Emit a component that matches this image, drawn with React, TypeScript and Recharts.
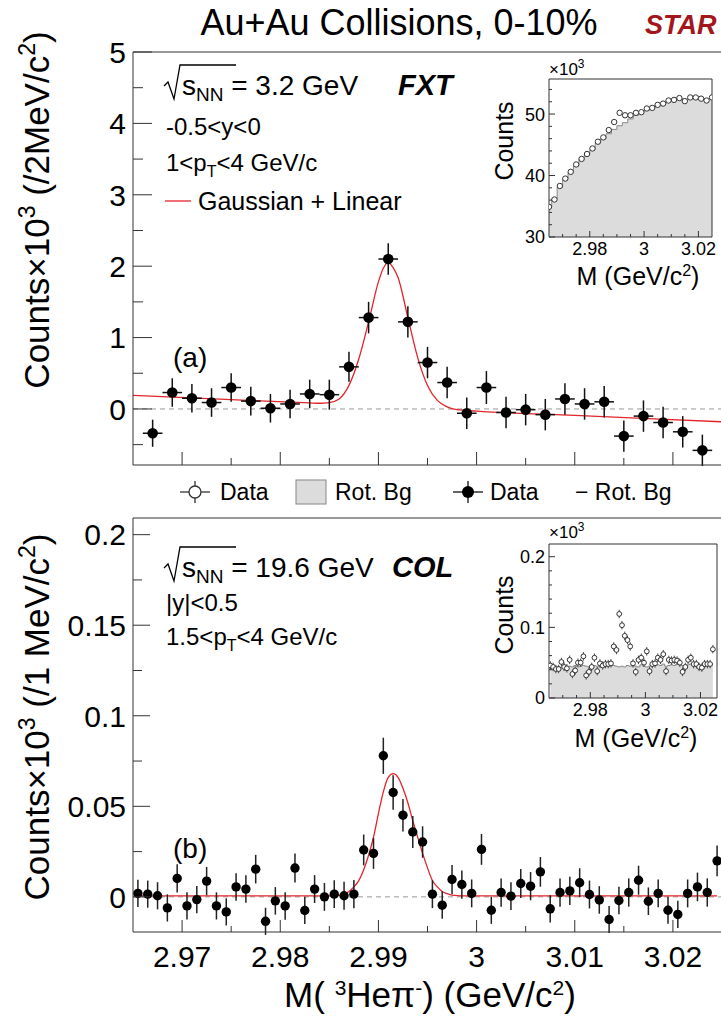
import React from "react";
import { ComposedChart, Scatter, Line, Area, XAxis, YAxis, ErrorBar, ReferenceLine } from "recharts";

const FONT = "'Liberation Sans', Arial, Helvetica, sans-serif";

// panel (a): 3.2 GeV FXT, Data - Rot. Bg, 2 MeV bins
const massA = [2.967, 2.969, 2.971, 2.973, 2.975, 2.977, 2.979, 2.981, 2.983, 2.985, 2.987, 2.989, 2.991, 2.993, 2.995,
  2.997, 2.999, 3.001, 3.003, 3.005, 3.007, 3.009, 3.011, 3.013, 3.015, 3.017, 3.019, 3.021, 3.023];
const countsA = [-0.34, 0.23, 0.15, 0.09, 0.3, 0.11, 0.01, 0.07, 0.21, 0.2, 0.59, 1.28, 2.1, 1.22, 0.65,
  0.37, -0.06, 0.3, -0.05, -0.01, -0.08, 0.14, 0.07, 0.1, -0.38, -0.1, -0.19, -0.32, -0.58];
const errA = [0.19, 0.2, 0.2, 0.2, 0.2, 0.2, 0.2, 0.2, 0.2, 0.21, 0.21, 0.22, 0.22, 0.22, 0.22,
  0.22, 0.22, 0.23, 0.22, 0.22, 0.22, 0.22, 0.22, 0.22, 0.22, 0.22, 0.22, 0.22, 0.22];
const fitMassA = [2.965, 2.975, 2.983, 2.984, 2.985, 2.986, 2.987, 2.988, 2.989, 2.99, 2.9905, 2.991, 2.9915,
  2.992, 2.993, 2.994, 2.995, 2.996, 2.997, 2.998, 3.0, 3.01, 3.025];
const fitA = [0.19, 0.13, 0.085, 0.08, 0.09, 0.14, 0.33, 0.7, 1.22, 1.78, 1.97, 2.05, 1.98,
  1.84, 1.28, 0.72, 0.33, 0.12, 0.03, -0.01, -0.03, -0.09, -0.18];

// inset (a): same-event data (x10^3) and rotated background
const massIA = [2.965, 2.967, 2.969, 2.971, 2.973, 2.975, 2.977, 2.979, 2.981, 2.983, 2.985, 2.987, 2.989, 2.991, 2.993,
  2.995, 2.997, 2.999, 3.001, 3.003, 3.005, 3.007, 3.009, 3.011, 3.013, 3.015, 3.017, 3.019, 3.021, 3.023, 3.025];
const dataIA = [34.9, 36.1, 38.3, 39.5, 40.6, 41.8, 42.7, 43.5, 44.4, 45.5, 46.2, 47.4, 48.7, 50.2, 49.8,
  49.8, 50.2, 50.3, 50.9, 51.0, 51.5, 51.7, 52.2, 52.3, 52.6, 52.1, 52.7, 52.7, 52.5, 52.2, 52.7];
const bgIA = [34.9, 36.2, 38.1, 39.4, 40.5, 41.6, 42.6, 43.5, 44.2, 45.3, 46.0, 46.8, 47.5, 48.1, 48.6,
  49.2, 49.8, 50.3, 50.6, 51.0, 51.5, 51.6, 52.1, 52.3, 52.6, 52.4, 52.6, 52.8, 52.6, 52.5, 52.6];

// panel (b): 19.6 GeV COL, Data - Rot. Bg, 1 MeV bins
const massB = [2.9655, 2.9665, 2.9675, 2.9685, 2.9695, 2.9705, 2.9715, 2.9725, 2.9735, 2.9745,
  2.9755, 2.9765, 2.9775, 2.9785, 2.9795, 2.9805, 2.9815, 2.9825, 2.9835, 2.9845,
  2.9855, 2.9865, 2.9875, 2.9885, 2.9895, 2.9905, 2.9915, 2.9925, 2.9935, 2.9945,
  2.9955, 2.9965, 2.9975, 2.9985, 2.9995, 3.0005, 3.0015, 3.0025, 3.0035, 3.0045,
  3.0055, 3.0065, 3.0075, 3.0085, 3.0095, 3.0105, 3.0115, 3.0125, 3.0135, 3.0145,
  3.0155, 3.0165, 3.0175, 3.0185, 3.0195, 3.0205, 3.0215, 3.0225, 3.0235, 3.0245];
const countsB = [0.0019, 0.0015, 0.0006, -0.0061, 0.0102, -0.005, -0.0015, 0.0087, -0.005, -0.0083,
  0.0055, 0.0043, 0.0153, -0.0135, -0.0022, -0.005, 0.0159, -0.0075, 0.0043, 0.0,
  0.0015, 0.0006, 0.0015, 0.0259, 0.024, 0.0779, 0.0576, 0.0451, 0.0358, 0.0303,
  0.0015, -0.0046, 0.0096, 0.0068, 0.0019, 0.0262, -0.0074, 0.0024, 0.0004, 0.0074,
  0.0059, 0.0138, -0.0066, 0.0024, 0.0033, 0.0078, 0.0013, -0.0017, -0.0125, -0.002,
  0.0024, 0.0092, -0.0024, 0.0019, -0.0074, -0.0097, 0.0019, 0.0055, 0.0024, 0.0199];
const errB = [0.0075, 0.0075, 0.0075, 0.0075, 0.0078, 0.0075, 0.0075, 0.0078, 0.0075, 0.0075,
  0.0076, 0.0076, 0.0079, 0.0075, 0.0076, 0.0076, 0.008, 0.0075, 0.0077, 0.0077,
  0.0077, 0.0077, 0.0078, 0.0085, 0.0085, 0.01, 0.0095, 0.009, 0.0088, 0.0087,
  0.0077, 0.0075, 0.008, 0.0078, 0.0077, 0.0085, 0.0075, 0.0078, 0.0077, 0.008,
  0.0078, 0.0082, 0.0075, 0.0078, 0.0078, 0.008, 0.0077, 0.0076, 0.0074, 0.0076,
  0.0078, 0.008, 0.0076, 0.0077, 0.0075, 0.0075, 0.0077, 0.0079, 0.0078, 0.0085];
const fitMassB = [2.9655, 2.9855, 2.9865, 2.987, 2.9875, 2.988, 2.9885, 2.989, 2.9895, 2.99, 2.9905, 2.991, 2.9915,
  2.992, 2.9925, 2.993, 2.9935, 2.994, 2.9945, 2.995, 2.9955, 2.996, 2.9965, 2.997, 2.9975, 2.9985, 3.0245];
const fitB = [0.0005, 0.0006, 0.0015, 0.003, 0.0055, 0.009, 0.015, 0.023, 0.033, 0.046, 0.058, 0.066, 0.068,
  0.066, 0.06, 0.052, 0.042, 0.033, 0.024, 0.016, 0.009, 0.0055, 0.003, 0.0018, 0.001, 0.0006, 0.0005];

// inset (b)
const dataIB = [0.046, 0.044, 0.041, 0.041, 0.051, 0.044, 0.042, 0.054, 0.034, 0.039,
  0.05, 0.05, 0.059, 0.032, 0.037, 0.044, 0.057, 0.038, 0.049, 0.046,
  0.048, 0.048, 0.049, 0.073, 0.068, 0.119, 0.103, 0.088, 0.082, 0.073,
  0.049, 0.037, 0.054, 0.057, 0.05, 0.066, 0.038, 0.048, 0.049, 0.057,
  0.054, 0.062, 0.038, 0.054, 0.053, 0.054, 0.053, 0.05, 0.037, 0.044,
  0.054, 0.057, 0.048, 0.048, 0.044, 0.043, 0.048, 0.048, 0.048, 0.069];
const bgIB = [0.044, 0.043, 0.042, 0.044, 0.043, 0.045, 0.043, 0.045, 0.044, 0.046,
  0.044, 0.045, 0.046, 0.045, 0.044, 0.045, 0.046, 0.045, 0.044, 0.046,
  0.046, 0.047, 0.046, 0.046, 0.045, 0.044, 0.045, 0.044, 0.046, 0.045,
  0.046, 0.045, 0.044, 0.047, 0.045, 0.044, 0.045, 0.046, 0.047, 0.047,
  0.046, 0.048, 0.045, 0.046, 0.047, 0.046, 0.048, 0.047, 0.046, 0.045,
  0.047, 0.048, 0.046, 0.047, 0.046, 0.044, 0.045, 0.047, 0.046, 0.047];

// ticks
const xMajor = [2.97, 2.98, 2.99, 3, 3.01, 3.02];
const xMinor = [2.975, 2.985, 2.995, 3.005, 3.015];
const yMajorA = [0, 1, 2, 3, 4, 5];
const yMinorA = [-0.5, 0.5, 1.5, 2.5, 3.5, 4.5];
const yMajorB = [0, 0.05, 0.1, 0.15, 0.2];
const yMinorB = [0.025, 0.075, 0.125, 0.175];
const xMajorI = [2.98, 3, 3.02];
const xMinorI = [2.97, 2.975, 2.985, 2.99, 2.995, 3.005, 3.01, 3.015];
const yMajorIA = [30, 40, 50];
const yMinorIA = [32, 34, 36, 38, 42, 44, 46, 48, 52, 54];
const yMajorIB = [0, 0.1, 0.2];
const yMinorIB = [0.02, 0.04, 0.06, 0.08, 0.12, 0.14, 0.16, 0.18];

const pointsA = massA.map((m, i) => ({ m, v: countsA[i], ey: errA[i], ex: 0.001 }));
const curveA = fitMassA.map((m, i) => ({ m, v: fitA[i] }));
const insetA = massIA.map((m, i) => ({ m, v: dataIA[i], bg: bgIA[i] }));
const pointsB = massB.map((m, i) => ({ m, v: countsB[i], ey: errB[i] }));
const curveB = fitMassB.map((m, i) => ({ m, v: fitB[i] }));
const insetB = massB.map((m, i) => ({ m, v: dataIB[i], bg: bgIB[i], ey: 0.006 }));

const AXIS = "#333";
const isIn = (arr: number[], v: number) => arr.some((a) => Math.abs(a - v) < 1e-9);

function yTick(majors: number[], len: number, minorLen: number, fs: number, gap: number) {
  return (props: any) => {
    const { x, y, payload } = props;
    const major = isIn(majors, payload.value);
    return (
      <g>
        <line x1={x} x2={x + (major ? len : minorLen)} y1={y} y2={y} stroke={AXIS} strokeWidth={1} />
        {major && (
          <text x={x - gap} y={y} dy="0.36em" textAnchor="end" fontSize={fs} fontFamily={FONT} fill="#000">
            {String(payload.value)}
          </text>
        )}
      </g>
    );
  };
}

function xTick(majors: number[], len: number, minorLen: number, fs: number, gap: number, labels: boolean) {
  return (props: any) => {
    const { x, y, payload } = props;
    const major = isIn(majors, payload.value);
    return (
      <g>
        <line x1={x} x2={x} y1={y} y2={y - (major ? len : minorLen)} stroke={AXIS} strokeWidth={1} />
        {major && labels && (
          <text x={x} y={y + gap} textAnchor="middle" fontSize={fs} fontFamily={FONT} fill="#000">
            {String(payload.value)}
          </text>
        )}
      </g>
    );
  };
}

const dot = (r: number) => (p: any) => <circle cx={p.cx} cy={p.cy} r={r} fill="#000" />;
const openDot = (r: number) => (p: any) => <circle cx={p.cx} cy={p.cy} r={r} fill="#fff" stroke="#333" strokeWidth={1} />;

function Sup({ children, fs, d }: any) {
  return <tspan dy={-d} fontSize={fs}>{children}</tspan>;
}

export default function App() {
  const abs = (left: number, top: number): React.CSSProperties => ({ position: "absolute", left, top });
  return (
    <div style={{ position: "absolute", left: 0, top: 0, width: 721, height: 1016, overflow: "hidden", background: "#fff" }}>
      {/* panel (a) */}
      <div style={abs(0, 0)}>
        <ComposedChart width={722} height={480} margin={{ top: 51, right: 0, left: 132, bottom: 14 }}>
          <XAxis type="number" dataKey="m" domain={[2.965, 3.025]} allowDataOverflow height={1}
            ticks={[...xMajor, ...xMinor]} interval={0} tickSize={0} tickMargin={0} tickLine={false}
            axisLine={{ stroke: AXIS }} tick={xTick(xMajor, 13, 7, 30, 36, false)} />
          <XAxis xAxisId="top" orientation="top" type="number" domain={[2.965, 3.025]} height={1}
            tick={false} tickLine={false} axisLine={{ stroke: AXIS }} />
          <YAxis type="number" domain={[-0.785, 5]} allowDataOverflow width={1}
            ticks={[...yMajorA, ...yMinorA]} interval={0} tickSize={0} tickMargin={0} tickLine={false}
            axisLine={{ stroke: AXIS }} tick={yTick(yMajorA, 19, 10, 30, 7)} />
          <ReferenceLine y={0} stroke="#999" strokeDasharray="5 4" />
          <Line data={curveA} dataKey="v" type="monotone" stroke="#e3242b" strokeWidth={1.3} dot={false} isAnimationActive={false} />
          <Scatter data={pointsA} dataKey="v" shape={dot(5.3)} isAnimationActive={false}>
            <ErrorBar dataKey="ex" direction="x" width={0} stroke="#111" strokeWidth={1.5} />
            <ErrorBar dataKey="ey" direction="y" width={0} stroke="#111" strokeWidth={1.5} />
          </Scatter>
        </ComposedChart>
      </div>

      {/* inset (a) */}
      <div style={abs(490, 60)}>
        <ComposedChart width={232} height={200} margin={{ top: 18, right: 9, left: 58, bottom: 22 }}>
          <XAxis type="number" dataKey="m" domain={[2.965, 3.025]} allowDataOverflow height={1}
            ticks={[...xMajorI, ...xMinorI]} interval={0} tickSize={0} tickMargin={0} tickLine={false}
            axisLine={{ stroke: AXIS }} tick={xTick(xMajorI, 6, 3, 18, 18, true)} />
          <XAxis xAxisId="top" orientation="top" type="number" domain={[2.965, 3.025]} height={1}
            tick={false} tickLine={false} axisLine={{ stroke: AXIS }} />
          <YAxis type="number" domain={[30, 55.7]} allowDataOverflow width={1}
            ticks={[...yMajorIA, ...yMinorIA]} interval={0} tickSize={0} tickMargin={0} tickLine={false}
            axisLine={{ stroke: AXIS }} tick={yTick(yMajorIA, 6, 3, 18, 4)} />
          <YAxis yAxisId="right" orientation="right" type="number" domain={[30, 55.7]} width={1}
            tick={false} tickLine={false} axisLine={{ stroke: AXIS }} />
          <Area data={insetA} dataKey="bg" type="step" fill="#dcdcdc" fillOpacity={1} stroke="#8a8a8a"
            strokeWidth={1} isAnimationActive={false} />
          <Scatter data={insetA} dataKey="v" shape={openDot(2.7)} isAnimationActive={false} />
        </ComposedChart>
      </div>

      {/* panel (b) */}
      <div style={abs(0, 500)}>
        <ComposedChart width={722} height={500} margin={{ top: 17, right: 0, left: 132, bottom: 67 }}>
          <XAxis type="number" dataKey="m" domain={[2.965, 3.025]} allowDataOverflow height={1}
            ticks={[...xMajor, ...xMinor]} interval={0} tickSize={0} tickMargin={0} tickLine={false}
            axisLine={{ stroke: AXIS }} tick={xTick(xMajor, 12, 6, 30, 35, true)} />
          <XAxis xAxisId="top" orientation="top" type="number" domain={[2.965, 3.025]} height={1}
            tick={false} tickLine={false} axisLine={{ stroke: AXIS }} />
          <YAxis type="number" domain={[-0.0194, 0.2092]} allowDataOverflow width={1}
            ticks={[...yMajorB, ...yMinorB]} interval={0} tickSize={0} tickMargin={0} tickLine={false}
            axisLine={{ stroke: AXIS }} tick={yTick(yMajorB, 17, 9, 30, 7)} />
          <ReferenceLine y={0} stroke="#999" strokeDasharray="5 4" />
          <Line data={curveB} dataKey="v" type="monotone" stroke="#e3242b" strokeWidth={1.3} dot={false} isAnimationActive={false} />
          <Scatter data={pointsB} dataKey="v" shape={dot(4.7)} isAnimationActive={false}>
            <ErrorBar dataKey="ey" direction="y" width={0} stroke="#222" strokeWidth={1.5} />
          </Scatter>
        </ComposedChart>
      </div>

      {/* inset (b) */}
      <div style={abs(490, 525)}>
        <ComposedChart width={232} height={200} margin={{ top: 18, right: 4, left: 58, bottom: 26 }}>
          <XAxis type="number" dataKey="m" domain={[2.965, 3.026]} allowDataOverflow height={1}
            ticks={[...xMajorI, ...xMinorI]} interval={0} tickSize={0} tickMargin={0} tickLine={false}
            axisLine={{ stroke: AXIS }} tick={xTick(xMajorI, 6, 3, 18, 18, true)} />
          <XAxis xAxisId="top" orientation="top" type="number" domain={[2.965, 3.026]} height={1}
            tick={false} tickLine={false} axisLine={{ stroke: AXIS }} />
          <YAxis type="number" domain={[0, 0.218]} allowDataOverflow width={1}
            ticks={[...yMajorIB, ...yMinorIB]} interval={0} tickSize={0} tickMargin={0} tickLine={false}
            axisLine={{ stroke: AXIS }} tick={yTick(yMajorIB, 6, 3, 18, 4)} />
          <YAxis yAxisId="right" orientation="right" type="number" domain={[0, 0.218]} width={1}
            tick={false} tickLine={false} axisLine={{ stroke: AXIS }} />
          <Area data={insetB} dataKey="bg" type="step" fill="#dcdcdc" fillOpacity={1} stroke="#8a8a8a"
            strokeWidth={1} isAnimationActive={false} />
          <Scatter data={insetB} dataKey="v" shape={openDot(2.4)} isAnimationActive={false}>
            <ErrorBar dataKey="ey" direction="y" width={0} stroke="#444" strokeWidth={1} />
          </Scatter>
        </ComposedChart>
      </div>

      {/* text overlay */}
      <svg width={721} height={1016} style={{ position: "absolute", left: 0, top: 0, pointerEvents: "none" }}
        fontFamily={FONT}>
        <text x={399} y={35} textAnchor="middle" fontSize={36}>Au+Au Collisions, 0-10%</text>
        <text x={645} y={34} fontSize={27} fontWeight="bold" fontStyle="italic" fill="#a3161b">STAR</text>

        <text transform="translate(49,210) rotate(-90)" textAnchor="middle" fontSize={35}>
          Counts×10<Sup fs={23} d={14}>3</Sup><tspan dy={14}> (/2MeV/c</tspan><Sup fs={23} d={14}>2</Sup><tspan dy={14}>)</tspan>
        </text>
        <text transform="translate(49,717) rotate(-90)" textAnchor="middle" fontSize={35}>
          Counts×10<Sup fs={23} d={14}>3</Sup><tspan dy={14}> (/1 MeV/c</tspan><Sup fs={23} d={14}>2</Sup><tspan dy={14}>)</tspan>
        </text>
        <text x={430} y={1007} textAnchor="middle" fontSize={35}>
          M( <Sup fs={21} d={12}>3</Sup><tspan dy={12}>Heπ</tspan><Sup fs={21} d={12}>-</Sup><tspan dy={12}>) (GeV/c</tspan>
          <Sup fs={21} d={12}>2</Sup><tspan dy={12}>)</tspan>
        </text>

        {/* panel (a) labels */}
        <polyline points="164,86 168,82 174,99 180,65 236,65" fill="none" stroke="#000" strokeWidth={1.3} />
        <text x={182} y={95} fontSize={28}>s<tspan dy={6} fontSize={19}>NN</tspan><tspan dy={-6}> = 3.2 GeV</tspan></text>
        <text x={398} y={95} fontSize={29} fontWeight="bold" fontStyle="italic">FXT</text>
        <text x={166} y={135} fontSize={24}>-0.5&lt;y&lt;0</text>
        <text x={166} y={171} fontSize={24}>1&lt;p<tspan dy={6} fontSize={16}>T</tspan><tspan dy={-6}>&lt;4 GeV/c</tspan></text>
        <line x1={165} x2={191} y1={201} y2={201} stroke="#e3242b" strokeWidth={1.3} />
        <text x={198} y={210} fontSize={25}>Gaussian + Linear</text>
        <text x={173} y={367} fontSize={28}>(a)</text>

        {/* legend between panels */}
        <line x1={180} x2={210} y1={492} y2={492} stroke="#333" strokeWidth={1.3} />
        <line x1={195} x2={195} y1={481} y2={503} stroke="#333" strokeWidth={1.3} />
        <circle cx={195} cy={492} r={6} fill="#fff" stroke="#333" strokeWidth={1.3} />
        <text x={220} y={500} fontSize={23}>Data</text>
        <rect x={296} y={480} width={30} height={24} fill="#dcdcdc" stroke="#888" />
        <text x={335} y={500} fontSize={23}>Rot. Bg</text>
        <line x1={453} x2={483} y1={492} y2={492} stroke="#111" strokeWidth={1.3} />
        <line x1={468} x2={468} y1={481} y2={503} stroke="#111" strokeWidth={1.3} />
        <circle cx={468} cy={492} r={6} fill="#000" />
        <text x={490} y={500} fontSize={23}>Data</text>
        <text x={575} y={500} fontSize={23}>− Rot. Bg</text>

        {/* panel (b) labels */}
        <polyline points="164,568 168,564 174,581 180,547 236,547" fill="none" stroke="#000" strokeWidth={1.3} />
        <text x={182} y={577} fontSize={28}>s<tspan dy={6} fontSize={19}>NN</tspan><tspan dy={-6}> = 19.6 GeV</tspan></text>
        <text x={392} y={577} fontSize={29} fontWeight="bold" fontStyle="italic">COL</text>
        <text x={166} y={611} fontSize={24}>|y|&lt;0.5</text>
        <text x={166} y={645} fontSize={24}>1.5&lt;p<tspan dy={6} fontSize={16}>T</tspan><tspan dy={-6}>&lt;4 GeV/c</tspan></text>
        <text x={173} y={858} fontSize={28}>(b)</text>

        {/* inset (a) labels */}
        <text transform="translate(513,141) rotate(-90)" textAnchor="middle" fontSize={25}>Counts</text>
        <text x={549} y={75} fontSize={17}>×10<Sup fs={12} d={7}>3</Sup></text>
        <text x={638} y={285} textAnchor="middle" fontSize={25}>
          M (GeV/c<Sup fs={16} d={9}>2</Sup><tspan dy={9}>)</tspan>
        </text>

        {/* inset (b) labels */}
        <text transform="translate(513,615) rotate(-90)" textAnchor="middle" fontSize={25}>Counts</text>
        <text x={549} y={538} fontSize={17}>×10<Sup fs={12} d={7}>3</Sup></text>
        <text x={636} y={747} textAnchor="middle" fontSize={25}>
          M (GeV/c<Sup fs={16} d={9}>2</Sup><tspan dy={9}>)</tspan>
        </text>
      </svg>
    </div>
  );
}
